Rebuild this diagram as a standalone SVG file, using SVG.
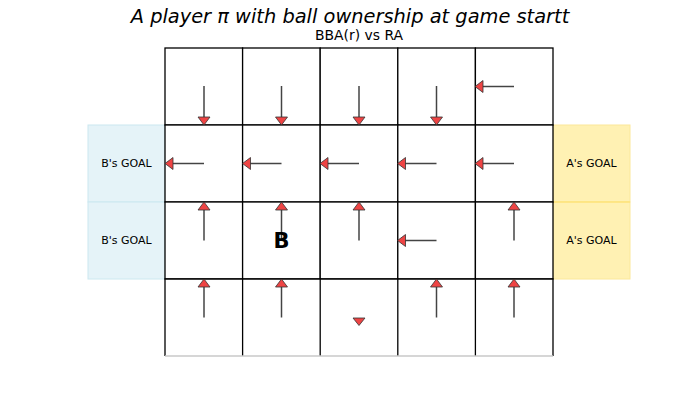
<svg xmlns="http://www.w3.org/2000/svg" width="700" height="400" viewBox="0 0 700 400">
<defs>
<style>
.cell{fill:#ffffff;stroke:#000000;stroke-width:1.3}
.shaft{stroke:#444444;stroke-width:1.5;fill:none}
.head{fill:#ee4444;stroke:#333333;stroke-width:0.8;stroke-linejoin:miter}
.gt{font-family:"DejaVu Sans",sans-serif;font-size:11px;fill:#000;text-anchor:middle}
</style>
</defs>
<rect width="700" height="400" fill="#ffffff"/>
<text x="350" y="23" font-family="DejaVu Sans, sans-serif" font-size="19.4" font-style="italic" text-anchor="middle">A player π with ball ownership at game startt</text>
<text x="359" y="40" font-family="DejaVu Sans, sans-serif" font-size="13.9" text-anchor="middle">BBA(r) vs RA</text>
<g id="goal-b">
<rect x="88" y="125" width="77" height="77" fill="#e5f3f8" stroke="#cce8f0" stroke-width="1"/>
<rect x="88" y="202" width="77" height="77" fill="#e5f3f8" stroke="#cce8f0" stroke-width="1"/>
<text class="gt" x="126.5" y="167">B's GOAL</text>
<text class="gt" x="126.5" y="244">B's GOAL</text>
</g>
<g id="goal-a">
<rect x="553" y="125" width="77" height="77" fill="#fff1b3" stroke="#fbe89a" stroke-width="1"/>
<rect x="553" y="202" width="77" height="77" fill="#fff1b3" stroke="#fbe89a" stroke-width="1"/>
<line x1="553" y1="202" x2="630" y2="202" stroke="#ffe066" stroke-width="1"/>
<text class="gt" x="591.5" y="167">A's GOAL</text>
<text class="gt" x="591.5" y="244">A's GOAL</text>
</g>
<g id="grid">
<rect class="cell" x="165" y="48" width="77.6" height="77"/>
<rect class="cell" x="242.6" y="48" width="77.6" height="77"/>
<rect class="cell" x="320.2" y="48" width="77.6" height="77"/>
<rect class="cell" x="397.8" y="48" width="77.6" height="77"/>
<rect class="cell" x="475.4" y="48" width="77.6" height="77"/>
<rect class="cell" x="165" y="125" width="77.6" height="77"/>
<rect class="cell" x="242.6" y="125" width="77.6" height="77"/>
<rect class="cell" x="320.2" y="125" width="77.6" height="77"/>
<rect class="cell" x="397.8" y="125" width="77.6" height="77"/>
<rect class="cell" x="475.4" y="125" width="77.6" height="77"/>
<rect class="cell" x="165" y="202" width="77.6" height="77"/>
<rect class="cell" x="242.6" y="202" width="77.6" height="77"/>
<rect class="cell" x="320.2" y="202" width="77.6" height="77"/>
<rect class="cell" x="397.8" y="202" width="77.6" height="77"/>
<rect class="cell" x="475.4" y="202" width="77.6" height="77"/>
<path d="M165,356 V279 H553 V356" fill="#ffffff" stroke="#000" stroke-width="1.3"/>
<line x1="242.6" y1="279" x2="242.6" y2="356" stroke="#000" stroke-width="1.3"/>
<line x1="320.2" y1="279" x2="320.2" y2="356" stroke="#000" stroke-width="1.3"/>
<line x1="397.8" y1="279" x2="397.8" y2="356" stroke="#000" stroke-width="1.3"/>
<line x1="475.4" y1="279" x2="475.4" y2="356" stroke="#000" stroke-width="1.3"/>
<line x1="165" y1="356" x2="553" y2="356" stroke="#c8c8c8" stroke-width="1.3"/>
</g>
<g id="connectors">
<line class="shaft" x1="204" y1="86" x2="204" y2="118"/><path class="head" d="M198,117 L210,117 L204,125 Z"/>
<line class="shaft" x1="281.5" y1="86" x2="281.5" y2="118"/><path class="head" d="M275.5,117 L287.5,117 L281.5,125 Z"/>
<line class="shaft" x1="359" y1="86" x2="359" y2="118"/><path class="head" d="M353,117 L365,117 L359,125 Z"/>
<line class="shaft" x1="436.5" y1="86" x2="436.5" y2="118"/><path class="head" d="M430.5,117 L442.5,117 L436.5,125 Z"/>
<line class="shaft" x1="514" y1="86.5" x2="482" y2="86.5"/><path class="head" d="M483,80.5 L483,92.5 L475,86.5 Z"/>
<line class="shaft" x1="204" y1="163.5" x2="172" y2="163.5"/><path class="head" d="M173,157.5 L173,169.5 L165,163.5 Z"/>
<line class="shaft" x1="281.5" y1="163.5" x2="249.5" y2="163.5"/><path class="head" d="M250.5,157.5 L250.5,169.5 L242.5,163.5 Z"/>
<line class="shaft" x1="359" y1="163.5" x2="327" y2="163.5"/><path class="head" d="M328,157.5 L328,169.5 L320,163.5 Z"/>
<line class="shaft" x1="436.5" y1="163.5" x2="404.5" y2="163.5"/><path class="head" d="M405.5,157.5 L405.5,169.5 L397.5,163.5 Z"/>
<line class="shaft" x1="514" y1="163.5" x2="482" y2="163.5"/><path class="head" d="M483,157.5 L483,169.5 L475,163.5 Z"/>
<line class="shaft" x1="204" y1="240.5" x2="204" y2="209"/><path class="head" d="M198,210 L210,210 L204,202 Z"/>
<line class="shaft" x1="281.5" y1="240.5" x2="281.5" y2="209"/><path class="head" d="M275.5,210 L287.5,210 L281.5,202 Z"/>
<line class="shaft" x1="359" y1="240.5" x2="359" y2="209"/><path class="head" d="M353,210 L365,210 L359,202 Z"/>
<line class="shaft" x1="436.5" y1="240.5" x2="404.5" y2="240.5"/><path class="head" d="M405.5,234.5 L405.5,246.5 L397.5,240.5 Z"/>
<line class="shaft" x1="514" y1="240.5" x2="514" y2="209"/><path class="head" d="M508,210 L520,210 L514,202 Z"/>
<line class="shaft" x1="204" y1="317.5" x2="204" y2="286"/><path class="head" d="M198,287 L210,287 L204,279 Z"/>
<line class="shaft" x1="281.5" y1="317.5" x2="281.5" y2="286"/><path class="head" d="M275.5,287 L287.5,287 L281.5,279 Z"/>
<path class="head" d="M353,318 L365,318 L359,325.5 Z"/>
<line class="shaft" x1="436.5" y1="317.5" x2="436.5" y2="286"/><path class="head" d="M430.5,287 L442.5,287 L436.5,279 Z"/>
<line class="shaft" x1="514" y1="317.5" x2="514" y2="286"/><path class="head" d="M508,287 L520,287 L514,279 Z"/>
</g>
<g id="ball-b">
<text x="281.5" y="248" font-family="DejaVu Sans, sans-serif" font-size="21" font-weight="bold" text-anchor="middle">B</text>
</g>
</svg>
